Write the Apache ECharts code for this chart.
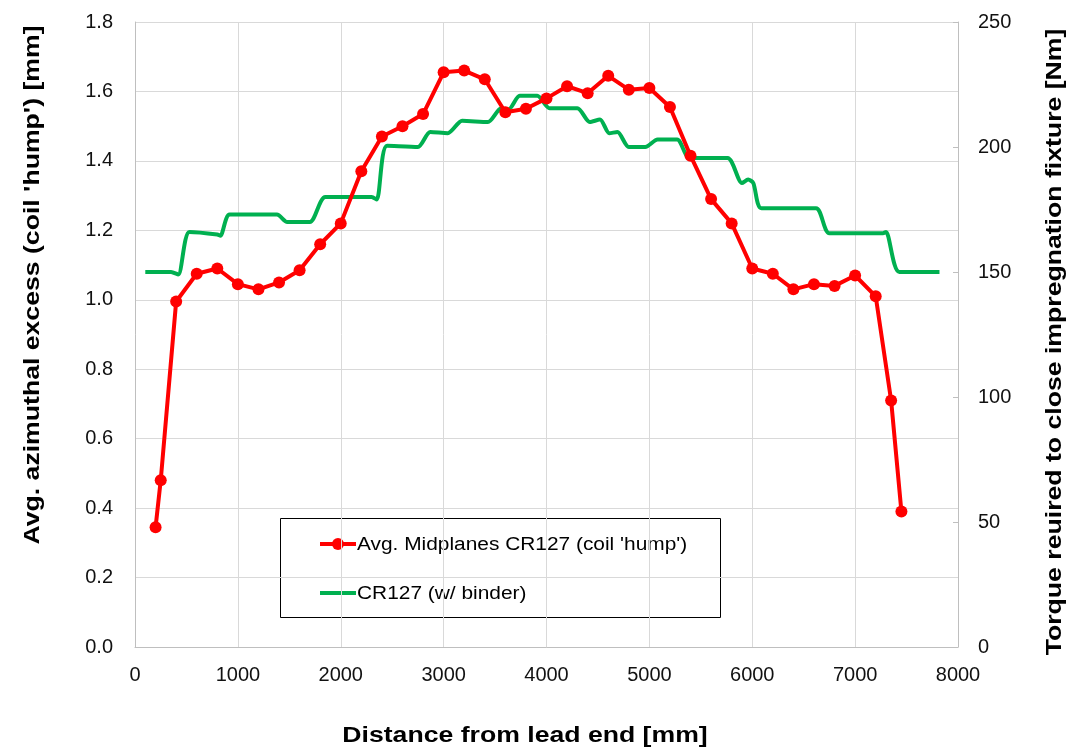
<!DOCTYPE html>
<html><head><meta charset="utf-8">
<script src="https://cdn.jsdelivr.net/npm/echarts@6/dist/echarts.min.js"></script>
<style>html,body{margin:0;padding:0;background:#fff}#c{width:1089px;height:754px}</style>
</head><body><div id="c"></div>
<script>
const redX = [200, 250, 400, 600, 800, 1000, 1200, 1400, 1600, 1800, 2000, 2200, 2400, 2600, 2800, 3000, 3200, 3400, 3600, 3800, 4000, 4200, 4400, 4600, 4800, 5000, 5200, 5400, 5600, 5800, 6000, 6200, 6400, 6600, 6800, 7000, 7200, 7350, 7450];
const redY = [0.345, 0.48, 0.995, 1.075, 1.09, 1.045, 1.03, 1.05, 1.085, 1.16, 1.22, 1.37, 1.47, 1.50, 1.535, 1.655, 1.66, 1.635, 1.54, 1.55, 1.58, 1.615, 1.595, 1.645, 1.605, 1.61, 1.555, 1.415, 1.29, 1.22, 1.09, 1.075, 1.03, 1.045, 1.04, 1.07, 1.01, 0.71, 0.39];
const greenX = [100, 350, 420, 530, 800, 830, 920, 1380, 1480, 1700, 1850, 2300, 2350, 2450, 2750, 2870, 3040, 3180, 3430, 3560, 3630, 3740, 3910, 4030, 4300, 4420, 4520, 4610, 4690, 4800, 4960, 5080, 5270, 5390, 5760, 5900, 5960, 6010, 6090, 6620, 6750, 7270, 7300, 7430, 7820];
const greenY = [150, 150, 149, 166, 165, 164.5, 173, 173, 170, 170, 180, 180, 179, 200.5, 200, 206, 205.5, 210.5, 210, 215.5, 215, 220.5, 220.5, 215.5, 215.5, 210, 211, 205.5, 206, 200, 200, 203, 203, 195.6, 195.6, 185.6, 187, 185.6, 175.5, 175.5, 165.5, 165.5, 166, 150, 150];
const xTicks = {min: 0, max: 8000, interval: 1000};
const leftTicks = {min: 0, max: 1.8, interval: 0.2};
const rightTicks = {min: 0, max: 250, interval: 50};
const names = ["Avg. Midplanes CR127 (coil 'hump')", "CR127 (w/ binder)"];
const xTitle = 'Distance from lead end [mm]';
const leftTitle = "Avg. azimuthal excess (coil 'hump') [mm]";
const rightTitle = 'Torque reuired to close impregnation fixture [Nm]';

const chart = echarts.init(document.getElementById('c'), null, {renderer: 'canvas'});
const FONT = 'Liberation Sans, Arial, sans-serif';
const axisLbl = {fontFamily: FONT, fontSize: 20, color: '#111'};
const titleStyle = {fontFamily: FONT, fontSize: 22, fontWeight: 'bold', fill: '#000', align: 'center', verticalAlign: 'middle'};
const legText = {fontFamily: FONT, fontSize: 18, fill: '#000', align: 'left', verticalAlign: 'middle'};
chart.setOption({
  animation: false,
  grid: {left: 135, right: 131, top: 22, bottom: 107, containLabel: false},
  xAxis: {type: 'value', min: xTicks.min, max: xTicks.max, interval: xTicks.interval,
    axisLine: {show: true, lineStyle: {color: '#bfbfbf', width: 1}},
    axisTick: {show: false},
    axisLabel: Object.assign({margin: 18, formatter: v => String(v)}, axisLbl),
    splitLine: {show: true, lineStyle: {color: '#d9d9d9', width: 1}}},
  yAxis: [
    {type: 'value', min: leftTicks.min, max: leftTicks.max, interval: leftTicks.interval,
      axisLine: {show: true, lineStyle: {color: '#bfbfbf'}},
      axisTick: {show: false},
      axisLabel: Object.assign({margin: 22, formatter: v => v.toFixed(1)}, axisLbl),
      splitLine: {show: true, lineStyle: {color: '#d9d9d9', width: 1}}},
    {type: 'value', position: 'right', min: rightTicks.min, max: rightTicks.max, interval: rightTicks.interval,
      axisLine: {show: true, lineStyle: {color: '#bfbfbf'}},
      axisTick: {show: true, inside: true, length: 5, lineStyle: {color: '#bfbfbf'}},
      axisLabel: Object.assign({margin: 20}, axisLbl),
      splitLine: {show: false}}
  ],
  series: [
    {name: names[0], type: 'line', yAxisIndex: 0, data: redX.map((x, i) => [x, redY[i]]),
      lineStyle: {color: '#ff0000', width: 4}, itemStyle: {color: '#ff0000'},
      symbol: 'circle', symbolSize: 12, z: 3},
    {name: names[1], type: 'line', yAxisIndex: 1, data: greenX.map((x, i) => [x, greenY[i]]),
      smooth: 0.25,
      lineStyle: {color: '#00b050', width: 4}, itemStyle: {color: '#00b050'},
      showSymbol: false, symbol: 'none', z: 2}
  ],
  graphic: [
    {type: 'text', x: 525, y: 736, scaleX: 1.21, style: Object.assign({text: xTitle}, titleStyle)},
    {type: 'text', x: 33, y: 285, rotation: Math.PI / 2, scaleX: 1.21, style: Object.assign({text: leftTitle}, titleStyle)},
    {type: 'text', x: 1055, y: 342, rotation: Math.PI / 2, scaleX: 1.21, style: Object.assign({text: rightTitle}, titleStyle)},
    {type: 'group', z: 10, children: [
      {type: 'rect', shape: {x: 280.5, y: 518.5, width: 440, height: 99}, style: {fill: '#fff', stroke: '#000', lineWidth: 1}},
      {type: 'line', shape: {x1: 320, y1: 544, x2: 356, y2: 544}, style: {stroke: '#ff0000', lineWidth: 4}},
      {type: 'circle', shape: {cx: 338, cy: 544, r: 6}, style: {fill: '#ff0000'}},
      {type: 'text', x: 357, y: 545, scaleX: 1.16, style: Object.assign({text: names[0]}, legText)},
      {type: 'line', shape: {x1: 320, y1: 593, x2: 356, y2: 593}, style: {stroke: '#00b050', lineWidth: 4}},
      {type: 'text', x: 357, y: 594, scaleX: 1.16, style: Object.assign({text: names[1]}, legText)}
    ]}
  ]
});
</script></body></html>
